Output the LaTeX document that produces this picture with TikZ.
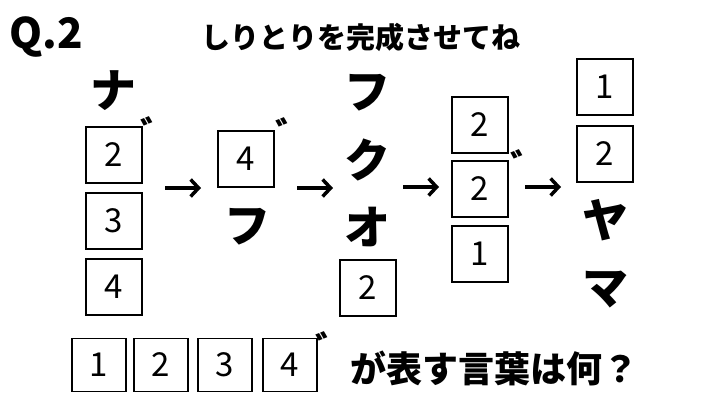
\documentclass[tikz,border=0pt]{standalone}
\usepackage{fontspec}
\setmainfont{Noto Sans CJK JP}
\usetikzlibrary{arrows.meta}

\begin{document}
\begin{tikzpicture}[x=1pt,y=1pt,
  box/.style={rectangle,draw=black,line width=1.3pt,minimum size=56pt,inner sep=0,font=\fontsize{33}{33}\selectfont},
  smallbox/.style={box,minimum width=54pt,minimum height=53pt},
  kana/.style={inner sep=0,font=\fontsize{46}{46}\selectfont\bfseries},
  dakuten/.style={inner sep=0,font=\fontsize{36}{36}\selectfont\bfseries},
  arr/.style={line width=3.5pt,-{Straight Barb[length=8pt,width=17pt]}}]
  \useasboundingbox (0,0) rectangle (720,-405);
  \node (q) [inner sep=0,font=\fontsize{42}{42}\selectfont\bfseries] at (46,-37) {Q.2};
  \node (title) [inner sep=0,font=\fontsize{29}{29}\selectfont\bfseries] at (361,-37) {しりとりを完成させてね};
  % column 1
  \node (na) [kana] at (113,-91) {ナ};
  \node (c1a) [box] at (114,-155) {2};
  \node (c1b) [box] at (114,-221) {3};
  \node (c1c) [box] at (114,-287) {4};
  \node (c1d) [dakuten] at (158,-132) {゛};
  % column 2
  \node (c2a) [box] at (246,-159) {4};
  \node (c2d) [dakuten] at (293,-133) {゛};
  \node (fu) [kana] at (247,-227) {フ};
  % column 3
  \node (fu2) [kana] at (367,-93) {フ};
  \node (ku) [kana] at (367,-160) {ク};
  \node (o) [kana] at (367,-227) {オ};
  \node (c3a) [box] at (368,-288) {2};
  % column 4
  \node (c4a) [box] at (480,-125) {2};
  \node (c4b) [box] at (480,-189) {2};
  \node (c4c) [box] at (480,-254) {1};
  \node (c4d) [dakuten] at (528,-165) {゛};
  % column 5
  \node (c5a) [box] at (605,-87) {1};
  \node (c5b) [box] at (605,-154) {2};
  \node (ya) [kana] at (605,-220) {ヤ};
  \node (ma) [kana] at (605,-290) {マ};
  % arrows
  \coordinate (a1s) at (165,-188); \coordinate (a1e) at (201,-188);
  \coordinate (a2s) at (297,-188); \coordinate (a2e) at (333,-188);
  \coordinate (a3s) at (403,-187); \coordinate (a3e) at (439,-187);
  \coordinate (a4s) at (525,-187); \coordinate (a4e) at (561,-187);
  \draw [arr] (a1s) -- (a1e);
  \draw [arr] (a2s) -- (a2e);
  \draw [arr] (a3s) -- (a3e);
  \draw [arr] (a4s) -- (a4e);
  % answer row
  \node (b1) [smallbox] at (99,-365) {1};
  \node (b2) [smallbox] at (161,-365) {2};
  \node (b3) [smallbox] at (225,-365) {3};
  \node (b4) [smallbox] at (290,-365) {4};
  \node (b4d) [dakuten] at (333,-347) {゛};
  \node (ask) [inner sep=0,font=\fontsize{36}{36}\selectfont\bfseries,anchor=west] at (350,-368) {が表す言葉は何？};
\end{tikzpicture}
\end{document}
